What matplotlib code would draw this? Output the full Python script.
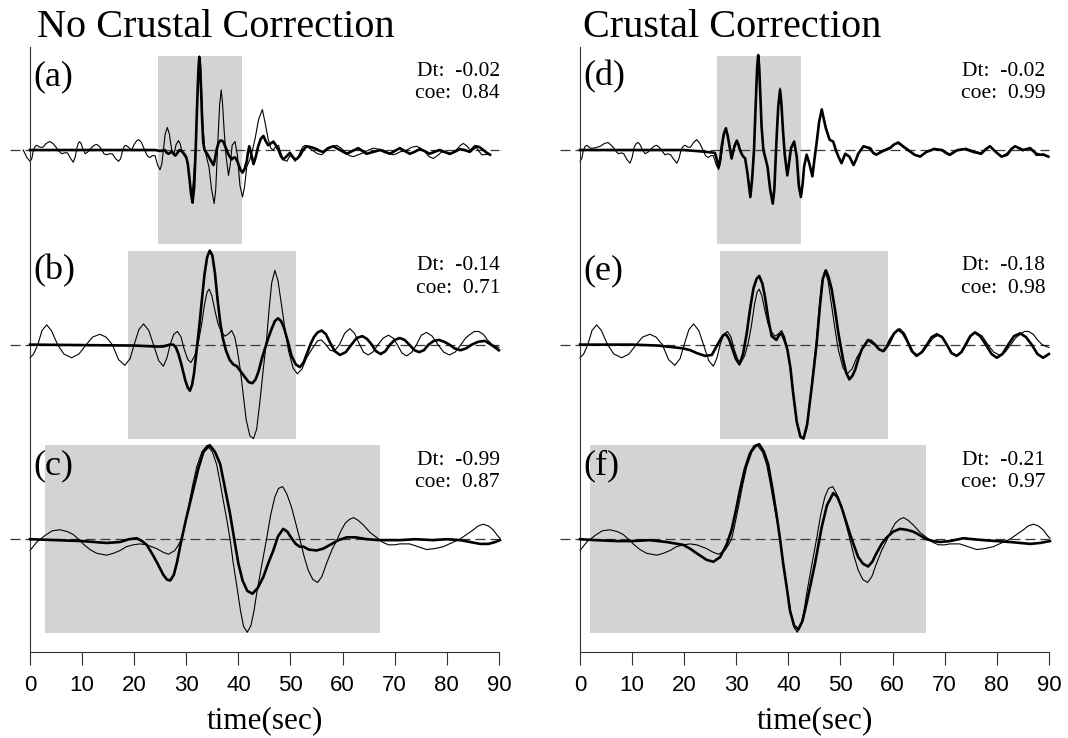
import matplotlib
matplotlib.use('Agg')
import matplotlib.pyplot as plt
from matplotlib.patches import Rectangle
from matplotlib.transforms import blended_transform_factory

plt.rcParams['font.family'] = ['Liberation Serif', 'DejaVu Serif']

# ---- traces as (time, amplitude) pairs ----
# thin = observed, thick = synthetic; amplitude 1 = half the grey window height

# (a) no crustal correction, top
obs_a = [(-1.3, 0.0), (-0.6, -0.08), (0.0, -0.12), (0.35, -0.09), (0.65, 0.0), (1.0, 0.04),
         (1.3, 0.05), (1.9, 0.03), (2.5, 0.03), (3.1, 0.07), (3.8, 0.09), (4.4, 0.07), (5.0, 0.03),
         (5.5, -0.01), (6.1, -0.04), (6.6, -0.03), (7.2, -0.03), (7.8, -0.09), (8.3, -0.13),
         (8.7, -0.07), (9.0, 0.02), (9.25, 0.07), (9.5, 0.09), (9.8, 0.07), (10.1, 0.02),
         (10.6, -0.04), (11.1, -0.02), (11.7, 0.02), (12.3, 0.05), (12.8, 0.06), (13.3, 0.04),
         (13.8, 0.0), (14.2, -0.04), (14.7, -0.05), (15.2, -0.04), (15.8, -0.04), (16.4, -0.09),
         (17.0, -0.12), (17.4, -0.09), (17.8, 0.0), (18.1, 0.04), (18.4, 0.05), (18.9, 0.03),
         (19.5, 0.0), (20.0, 0.06), (20.5, 0.1), (20.9, 0.11), (21.4, 0.08), (22.0, 0.0),
         (22.5, -0.06), (23.0, -0.08), (23.5, -0.06), (24.0, -0.06), (24.5, -0.16), (24.95, -0.21),
         (25.3, -0.15), (25.6, 0.0), (25.95, 0.17), (26.35, 0.24), (26.75, 0.17), (27.2, 0.0),
         (27.6, -0.05), (28.05, 0.06), (28.5, 0.10), (28.8, 0.07), (29.1, 0.0), (29.6, -0.06),
         (30.05, -0.09), (30.5, -0.25), (31.05, -0.5), (31.4, -0.3), (31.75, 0.0), (31.95, 0.3),
         (32.15, 0.6), (32.35, 0.88), (32.55, 1.0), (32.75, 0.88), (32.95, 0.6), (33.2, 0.25),
         (33.55, 0.0), (34.0, -0.1), (34.35, -0.18), (34.85, -0.42), (35.35, -0.57), (35.65, -0.42),
         (35.9, -0.1), (36.15, 0.2), (36.4, 0.48), (36.7, 0.64), (36.95, 0.5), (37.25, 0.22),
         (37.6, -0.05), (38.1, -0.27), (38.45, -0.15), (38.8, 0.05), (39.35, 0.09), (39.8, -0.05),
         (40.3, -0.38), (40.8, -0.5), (41.2, -0.38), (41.6, -0.18), (42.2, -0.1), (42.7, 0.0),
         (43.2, 0.12), (43.9, 0.33), (44.6, 0.43), (45.2, 0.27), (45.7, 0.12), (46.2, 0.02),
         (46.7, 0.0), (47.2, 0.04), (47.7, 0.05), (48.2, -0.04), (48.6, -0.1), (49.3, -0.12),
         (49.9, -0.06), (50.4, -0.08), (50.9, -0.12), (51.4, -0.08), (51.8, -0.03), (52.3, 0.03),
         (52.8, 0.05), (53.6, 0.02), (54.4, -0.01), (55.2, -0.04), (56.0, -0.05), (56.8, -0.01),
         (57.5, 0.02), (58.2, 0.04), (58.9, 0.05), (59.7, 0.02), (60.5, -0.02), (61.3, -0.06),
         (62.1, -0.07), (63.0, -0.05), (64.0, -0.03), (65.0, 0.0), (65.9, 0.02), (66.9, 0.01),
         (67.8, 0.0), (68.8, -0.03), (69.7, -0.05), (70.3, -0.04), (71.0, -0.02), (71.7, -0.01),
         (72.3, 0.0), (73.3, 0.03), (74.2, 0.04), (75.0, 0.02), (75.8, -0.02), (76.6, -0.07),
         (77.4, -0.09), (78.2, -0.06), (79.0, -0.02), (79.8, -0.03), (80.6, -0.05), (81.3, -0.02),
         (82.0, 0.01), (82.6, 0.05), (83.2, 0.07), (83.9, 0.04), (84.5, 0.0), (85.0, 0.03),
         (85.4, 0.05), (86.0, 0.0), (86.7, -0.05), (87.3, -0.05), (88.0, -0.04)]
syn_a = [(0.0, 0.0), (10.0, 0.0), (20.0, 0.0), (24.0, 0.0), (25.0, -0.01), (25.9, 0.0),
         (26.25, -0.03), (26.6, -0.04), (26.9, -0.03), (27.2, -0.01), (27.55, -0.04), (27.9, -0.06),
         (28.3, -0.03), (28.7, 0.0), (29.05, -0.01), (29.4, -0.03), (29.7, -0.05), (30.0, -0.08),
         (30.3, -0.15), (30.6, -0.3), (30.9, -0.46), (31.2, -0.56), (31.5, -0.4), (31.8, 0.0),
         (32.0, 0.35), (32.2, 0.68), (32.35, 0.88), (32.5, 0.99), (32.65, 0.9), (32.85, 0.62),
         (33.05, 0.3), (33.25, 0.08), (33.5, 0.0), (34.0, -0.04), (34.6, -0.1), (35.2, -0.16),
         (35.5, -0.1), (35.8, 0.0), (36.15, 0.07), (36.5, 0.10), (36.8, 0.1), (37.1, 0.09),
         (37.6, 0.02), (38.1, -0.05), (38.7, -0.1), (39.1, -0.08), (39.4, -0.08), (39.7, -0.11),
         (40.0, -0.15), (40.4, -0.21), (40.8, -0.24), (41.2, -0.2), (41.6, -0.12), (41.85, -0.02),
         (42.1, 0.04), (42.5, -0.05), (42.9, -0.15), (43.3, -0.08), (43.8, 0.04), (44.3, 0.12),
         (44.8, 0.15), (45.2, 0.1), (45.7, 0.05), (46.2, 0.07), (46.7, 0.09), (47.2, 0.05),
         (47.7, 0.0), (48.2, -0.07), (48.6, -0.1), (49.2, -0.07), (49.9, -0.03), (50.4, -0.07),
         (50.9, -0.1), (51.3, -0.09), (51.8, -0.06), (52.4, 0.0), (53.1, 0.04), (54.0, 0.03),
         (55.0, 0.01), (55.6, -0.01), (56.3, -0.02), (57.2, 0.02), (58.2, 0.04), (59.5, 0.0),
         (60.8, -0.04), (61.9, -0.01), (63.0, 0.02), (63.8, -0.01), (64.6, -0.04), (65.9, -0.02),
         (67.2, 0.0), (68.1, -0.02), (69.1, -0.04), (70.0, -0.01), (71.0, 0.02), (71.9, -0.01),
         (72.9, -0.04), (73.8, -0.02), (74.8, 0.01), (75.7, -0.01), (76.7, -0.04), (77.6, -0.02),
         (78.6, 0.0), (79.6, -0.02), (80.6, -0.04), (81.5, -0.02), (82.5, 0.01), (83.4, 0.0),
         (84.4, -0.02), (85.0, 0.01), (85.7, 0.04), (86.3, 0.03), (87.0, 0.0), (87.7, -0.03),
         (88.3, -0.05)]

# (b) and (e) share the observed trace
obs_be = [(0.0, -0.14), (0.7, -0.1), (1.5, 0.0), (2.3, 0.15), (3.2, 0.21), (4.1, 0.15), (5.3, 0.0),
          (6.5, -0.1), (8.0, -0.14), (9.4, -0.1), (10.8, 0.0), (12.0, 0.08), (13.4, 0.11),
          (14.6, 0.08), (15.8, 0.0), (17.0, -0.16), (18.2, -0.22), (19.2, -0.15), (20.0, 0.0),
          (20.9, 0.16), (21.8, 0.22), (22.8, 0.15), (23.7, 0.0), (24.7, -0.17), (25.6, -0.23),
          (26.3, -0.14), (26.9, 0.0), (27.6, 0.11), (28.3, 0.14), (29.0, 0.08), (29.6, -0.05),
          (30.3, -0.16), (30.9, -0.19), (31.6, -0.12), (32.3, 0.02), (32.9, 0.2), (33.5, 0.43),
          (34.0, 0.56), (34.4, 0.59), (34.9, 0.52), (35.5, 0.36), (36.1, 0.22), (36.7, 0.14),
          (37.4, 0.09), (38.0, 0.11), (38.7, 0.15), (39.3, 0.08), (39.8, -0.06), (40.4, -0.28),
          (40.9, -0.52), (41.5, -0.8), (42.2, -0.97), (42.9, -1.0), (43.5, -0.9), (44.1, -0.62),
          (44.8, -0.25), (45.4, 0.05), (45.9, 0.38), (46.4, 0.66), (47.0, 0.79), (47.6, 0.68),
          (48.2, 0.45), (48.9, 0.18), (49.6, -0.06), (50.5, -0.25), (51.3, -0.31), (52.2, -0.26),
          (53.1, -0.14), (54.2, -0.04), (55.2, 0.04), (55.9, 0.05), (56.8, 0.0), (57.6, -0.06),
          (58.4, -0.07), (59.4, 0.0), (60.4, 0.12), (61.4, 0.17), (62.3, 0.12), (63.1, 0.02),
          (64.0, -0.08), (64.9, -0.11), (65.8, -0.08), (66.8, 0.0), (67.8, 0.07), (68.8, 0.1),
          (69.7, 0.07), (70.5, 0.0), (71.4, -0.09), (72.3, -0.12), (73.3, -0.08), (74.2, 0.0),
          (75.1, 0.1), (76.1, 0.13), (77.2, 0.09), (78.3, 0.0), (79.4, -0.08), (80.5, -0.11),
          (81.6, -0.08), (82.7, 0.0), (83.6, 0.07), (84.5, 0.11), (85.3, 0.14), (86.1, 0.14),
          (87.0, 0.11), (87.8, 0.05), (88.7, 0.0), (89.5, -0.02), (90.0, -0.03)]
syn_b = [(0.0, 0.0), (10.0, -0.005), (20.0, -0.01), (24.0, -0.02), (25.6, -0.02), (26.8, 0.0),
         (27.5, 0.0), (28.0, -0.03), (28.5, -0.1), (29.1, -0.22), (29.8, -0.38), (30.3, -0.46),
         (30.7, -0.49), (31.1, -0.43), (31.5, -0.3), (32.0, -0.05), (32.5, 0.2), (33.0, 0.48),
         (33.5, 0.75), (34.0, 0.93), (34.5, 1.0), (35.0, 0.95), (35.5, 0.76), (36.0, 0.48),
         (36.5, 0.24), (37.0, 0.07), (37.6, -0.06), (38.3, -0.16), (39.0, -0.21), (39.7, -0.23),
         (40.5, -0.29), (41.3, -0.35), (42.0, -0.4), (42.7, -0.41), (43.3, -0.37), (43.9, -0.28),
         (44.5, -0.15), (45.1, -0.04), (45.8, 0.08), (46.4, 0.17), (47.0, 0.25), (47.6, 0.28),
         (48.2, 0.25), (48.8, 0.17), (49.5, 0.03), (50.2, -0.12), (51.0, -0.21), (51.8, -0.24),
         (52.5, -0.19), (53.2, -0.09), (53.8, 0.0), (54.5, 0.08), (55.2, 0.13), (56.0, 0.15),
         (56.8, 0.11), (57.6, 0.02), (58.5, -0.07), (59.5, -0.11), (60.6, -0.08), (61.7, 0.0),
         (62.7, 0.07), (63.8, 0.09), (64.7, 0.06), (65.6, 0.0), (66.4, -0.07), (67.3, -0.1),
         (68.2, -0.07), (69.1, 0.0), (70.0, 0.05), (71.0, 0.07), (71.9, 0.05), (72.8, 0.0),
         (73.8, -0.06), (74.7, -0.08), (75.6, -0.06), (76.5, 0.0), (77.5, 0.04), (78.5, 0.05),
         (79.5, 0.03), (80.5, 0.0), (81.5, -0.04), (82.6, -0.06), (83.7, -0.04), (84.8, 0.0),
         (86.0, 0.03), (87.3, 0.04), (88.2, 0.01), (89.0, -0.02), (90.0, -0.06)]

# (c) and (f) share the observed trace
obs_cf = [(0.0, -0.12), (1.3, -0.03), (2.9, 0.04), (4.3, 0.09), (5.8, 0.10), (7.2, 0.08),
          (8.3, 0.05), (9.3, 0.0), (10.2, -0.05), (11.5, -0.11), (12.8, -0.15), (14.7, -0.17),
          (16.0, -0.15), (17.3, -0.12), (18.5, -0.08), (19.8, -0.06), (21.1, -0.05), (22.4, -0.06),
          (24.3, -0.1), (25.6, -0.14), (26.6, -0.16), (27.8, -0.12), (28.5, -0.06), (29.1, 0.0),
          (29.7, 0.15), (30.4, 0.34), (31.2, 0.57), (32.0, 0.77), (33.0, 0.93), (34.0, 1.0),
          (35.0, 0.93), (35.8, 0.8), (36.5, 0.6), (37.1, 0.41), (37.8, 0.2), (38.4, 0.0),
          (39.0, -0.25), (39.7, -0.5), (40.4, -0.76), (41.0, -0.93), (41.7, -0.99), (42.4, -0.92),
          (43.0, -0.76), (43.5, -0.58), (44.4, -0.3), (45.4, 0.0), (46.2, 0.26), (47.0, 0.45),
          (47.7, 0.54), (48.5, 0.56), (49.3, 0.48), (50.2, 0.34), (51.0, 0.17), (51.8, 0.0),
          (52.6, -0.18), (53.4, -0.33), (54.3, -0.43), (55.2, -0.46), (56.0, -0.4), (56.9, -0.26),
          (57.9, -0.12), (58.9, -0.01), (59.7, 0.09), (60.5, 0.17), (61.3, 0.21), (62.1, 0.23),
          (63.0, 0.2), (64.0, 0.15), (65.3, 0.07), (66.5, 0.02), (67.6, -0.03), (68.8, -0.06),
          (70.0, -0.06), (71.0, -0.05), (72.9, -0.05), (74.5, -0.08), (76.1, -0.11), (77.7, -0.1),
          (79.3, -0.08), (80.9, -0.04), (82.5, 0.0), (83.8, 0.05), (85.1, 0.1), (86.0, 0.14),
          (87.0, 0.16), (88.0, 0.14), (88.9, 0.1), (89.7, 0.04), (90.2, 0.01)]
syn_c = [(0.0, 0.0), (5.0, -0.01), (10.0, -0.02), (14.7, -0.04), (17.3, -0.03), (19.0, 0.0),
         (20.5, 0.01), (21.5, -0.02), (22.4, -0.06), (23.4, -0.15), (24.3, -0.24), (25.6, -0.38),
         (26.3, -0.43), (26.9, -0.44), (27.6, -0.38), (28.2, -0.25), (29.1, 0.0), (29.9, 0.2),
         (30.6, 0.36), (31.3, 0.52), (32.3, 0.75), (33.3, 0.93), (34.5, 1.0), (35.5, 0.93),
         (36.5, 0.8), (37.4, 0.55), (38.4, 0.27), (39.2, 0.0), (40.0, -0.26), (40.8, -0.44),
         (41.7, -0.55), (42.7, -0.58), (43.7, -0.52), (44.8, -0.4), (45.7, -0.26), (46.7, -0.12),
         (47.6, 0.03), (48.6, 0.11), (49.4, 0.08), (50.2, 0.01), (51.0, -0.05), (51.8, -0.08),
         (52.5, -0.08), (53.5, -0.11), (55.0, -0.12), (56.3, -0.1), (57.6, -0.06), (59.2, -0.01),
         (60.8, 0.02), (62.5, 0.02), (64.6, 0.0), (67.0, -0.01), (71.0, -0.01), (74.0, 0.0),
         (77.4, -0.01), (80.0, 0.0), (82.5, -0.01), (84.5, -0.03), (86.4, -0.05), (88.0, -0.05),
         (89.3, -0.03), (90.2, -0.01)]

# (d) crustal correction, top
obs_d = [(0.0, -0.12), (0.35, -0.09), (0.65, 0.0), (1.0, 0.04), (1.3, 0.05), (2.0, 0.02),
         (2.6, 0.02), (3.3, 0.03), (3.9, 0.04), (4.7, 0.07), (5.4, 0.08), (6.0, 0.05), (6.5, 0.02),
         (7.0, -0.02), (7.4, -0.04), (7.9, -0.03), (8.4, -0.04), (9.0, -0.1), (9.6, -0.14),
         (10.0, -0.08), (10.4, 0.03), (10.8, 0.07), (11.2, 0.08), (11.6, 0.05), (12.0, 0.0),
         (12.5, -0.04), (13.1, -0.02), (13.6, 0.01), (14.2, 0.04), (14.7, 0.05), (15.2, 0.03),
         (15.6, 0.0), (16.3, -0.05), (16.9, -0.04), (17.4, -0.05), (18.0, -0.1), (18.6, -0.14),
         (19.0, -0.09), (19.4, 0.0), (19.8, 0.04), (20.2, 0.05), (20.7, 0.03), (21.2, 0.03),
         (21.8, 0.08), (22.4, 0.11), (23.0, 0.07), (23.6, 0.0), (24.1, -0.06), (24.6, -0.08),
         (25.1, -0.06), (25.6, -0.06), (26.1, -0.15), (26.6, -0.21), (26.95, -0.14), (27.3, 0.0),
         (27.65, 0.17), (28.0, 0.24), (28.35, 0.16), (28.7, 0.02), (29.2, -0.06), (29.65, 0.06),
         (30.1, 0.1), (30.4, 0.06), (30.7, 0.0), (31.2, -0.06), (31.7, -0.09), (32.15, -0.25),
         (32.7, -0.5), (33.05, -0.3), (33.4, 0.0), (33.6, 0.3), (33.8, 0.6), (34.0, 0.88),
         (34.2, 1.0), (34.4, 0.88), (34.6, 0.6), (34.85, 0.25), (35.2, 0.0), (35.65, -0.1),
         (36.0, -0.18), (36.5, -0.42), (37.0, -0.57), (37.3, -0.42), (37.55, -0.1), (37.8, 0.2),
         (38.05, 0.48), (38.4, 0.66), (38.65, 0.5), (38.95, 0.22), (39.3, -0.05), (39.8, -0.27),
         (40.1, -0.15), (40.5, 0.02), (41.1, 0.09), (41.6, -0.07), (42.0, -0.38), (42.4, -0.5),
         (42.75, -0.35), (43.0, -0.18), (43.5, -0.05), (44.0, -0.14), (44.6, -0.28), (45.0, -0.1),
         (45.4, 0.07), (45.9, 0.3), (46.4, 0.44), (46.8, 0.33), (47.2, 0.23), (47.9, 0.11),
         (48.6, 0.09), (49.1, 0.0), (49.6, -0.07), (50.2, -0.14), (50.9, -0.04), (51.7, -0.07),
         (52.5, -0.16), (53.0, -0.1), (53.4, -0.04), (54.4, 0.04), (55.0, 0.03), (55.7, 0.0),
         (56.3, -0.04), (56.9, -0.05), (57.5, -0.02), (58.2, 0.0), (59.5, 0.03), (60.3, 0.06),
         (61.1, 0.07), (62.0, 0.03), (63.0, -0.01), (64.2, -0.05), (65.3, -0.07), (66.0, -0.04),
         (66.5, -0.02), (68.0, 0.02), (69.5, -0.01), (70.3, -0.04), (71.0, -0.06), (71.8, -0.03),
         (72.5, 0.0), (74.0, 0.02), (75.5, -0.01), (77.0, -0.03), (77.9, 0.01), (78.7, 0.04),
         (79.8, -0.02), (80.9, -0.07), (81.5, -0.05), (82.0, -0.03), (82.8, 0.02), (83.5, 0.04),
         (84.3, 0.01), (85.0, -0.01), (85.7, 0.01), (86.4, 0.02), (87.0, -0.02), (87.6, -0.06),
         (88.3, -0.05), (89.0, -0.04), (89.9, -0.07)]
syn_d = [(0.0, 0.0), (10.0, 0.0), (20.0, 0.0), (24.3, -0.02), (25.9, -0.03), (26.25, -0.1),
         (26.6, -0.18), (26.9, -0.1), (27.2, 0.04), (27.6, 0.17), (28.0, 0.23), (28.35, 0.15),
         (28.7, 0.04), (29.1, -0.09), (29.6, 0.03), (30.1, 0.1), (30.4, 0.06), (30.7, 0.0),
         (31.2, -0.06), (31.7, -0.09), (32.15, -0.25), (32.7, -0.5), (33.05, -0.3), (33.4, 0.0),
         (33.6, 0.3), (33.8, 0.6), (34.0, 0.88), (34.2, 1.01), (34.4, 0.88), (34.6, 0.6),
         (34.85, 0.25), (35.2, 0.0), (35.65, -0.1), (36.0, -0.18), (36.5, -0.42), (37.0, -0.57),
         (37.3, -0.42), (37.55, -0.1), (37.8, 0.2), (38.05, 0.46), (38.4, 0.64), (38.65, 0.5),
         (38.95, 0.22), (39.3, -0.05), (39.8, -0.27), (40.1, -0.15), (40.5, 0.02), (41.1, 0.09),
         (41.6, -0.07), (42.0, -0.38), (42.4, -0.5), (42.75, -0.35), (43.0, -0.18), (43.5, -0.05),
         (44.0, -0.14), (44.6, -0.28), (45.0, -0.1), (45.4, 0.07), (45.9, 0.3), (46.4, 0.43),
         (46.8, 0.33), (47.2, 0.23), (47.9, 0.11), (48.6, 0.09), (49.1, 0.0), (49.6, -0.07),
         (50.2, -0.14), (50.9, -0.04), (51.7, -0.07), (52.5, -0.16), (53.0, -0.1), (53.4, -0.04),
         (54.4, 0.04), (55.0, 0.03), (55.7, 0.02), (56.3, -0.03), (56.9, -0.05), (57.5, -0.03),
         (58.2, -0.01), (59.5, 0.02), (60.3, 0.06), (61.1, 0.08), (62.0, 0.04), (63.0, 0.0),
         (64.2, -0.05), (65.3, -0.07), (66.0, -0.04), (66.5, -0.02), (68.0, 0.01), (69.5, 0.0),
         (70.3, -0.03), (71.0, -0.05), (71.8, -0.02), (72.5, 0.0), (74.0, 0.01), (75.5, -0.02),
         (77.0, -0.04), (77.9, 0.01), (78.7, 0.04), (79.8, -0.02), (80.9, -0.07), (81.5, -0.06),
         (82.0, -0.05), (82.8, 0.01), (83.5, 0.04), (84.3, 0.02), (85.0, 0.0), (85.7, 0.01),
         (86.4, 0.02), (87.0, -0.01), (87.6, -0.04), (88.3, -0.05), (89.0, -0.05), (89.9, -0.07)]

# (e) crustal correction, middle
syn_e = [(0.0, 0.0), (10.0, 0.0), (15.0, -0.01), (19.8, -0.04), (21.2, -0.06), (22.4, -0.09),
         (24.0, -0.12), (25.3, -0.11), (26.1, -0.03), (26.9, 0.05), (27.5, 0.1), (28.0, 0.11),
         (28.6, 0.06), (29.1, -0.02), (29.9, -0.15), (30.6, -0.21), (31.3, -0.1), (32.0, 0.12),
         (32.7, 0.4), (33.3, 0.6), (33.9, 0.7), (34.4, 0.73), (35.0, 0.65), (35.5, 0.51),
         (36.2, 0.25), (36.8, 0.09), (37.7, 0.05), (38.2, 0.1), (38.7, 0.12), (39.3, 0.04),
         (39.8, -0.05), (40.4, -0.25), (40.9, -0.51), (41.6, -0.82), (42.3, -0.98), (42.9, -1.0),
         (43.6, -0.85), (44.1, -0.62), (44.5, -0.44), (45.4, 0.0), (46.1, 0.44), (46.6, 0.7),
         (47.2, 0.79), (47.7, 0.72), (48.3, 0.59), (49.0, 0.35), (49.6, 0.12), (50.5, -0.16),
         (51.1, -0.3), (51.7, -0.37), (52.3, -0.33), (52.8, -0.27), (53.5, -0.14), (54.1, -0.05),
         (55.3, 0.05), (56.6, 0.0), (57.4, -0.05), (58.2, -0.07), (58.9, -0.02), (59.5, 0.05),
         (60.3, 0.12), (61.1, 0.16), (62.0, 0.12), (62.8, 0.04), (63.7, -0.07), (64.6, -0.12),
         (65.6, -0.08), (66.6, 0.0), (67.5, 0.08), (68.5, 0.11), (69.5, 0.08), (70.4, 0.0),
         (71.3, -0.09), (72.3, -0.12), (73.2, -0.08), (74.0, 0.0), (74.9, 0.09), (75.8, 0.13),
         (76.8, 0.09), (77.9, 0.0), (79.0, -0.1), (80.0, -0.14), (81.1, -0.1), (82.2, 0.0),
         (83.3, 0.09), (84.5, 0.12), (85.6, 0.08), (86.7, 0.0), (87.8, -0.1), (88.9, -0.14),
         (90.0, -0.1)]

# (f) crustal correction, bottom
syn_f = [(0.0, 0.0), (3.0, -0.01), (7.0, -0.02), (10.0, -0.02), (13.4, -0.01), (16.6, -0.03),
         (19.8, -0.06), (21.1, -0.1), (22.4, -0.15), (24.3, -0.22), (25.6, -0.24), (26.9, -0.19),
         (28.2, -0.05), (29.1, 0.1), (29.9, 0.3), (30.7, 0.52), (31.6, 0.74), (32.6, 0.91),
         (33.5, 0.99), (34.4, 1.01), (35.3, 0.93), (36.1, 0.8), (36.9, 0.55), (37.7, 0.27),
         (38.4, 0.0), (39.0, -0.26), (39.7, -0.52), (40.3, -0.76), (41.1, -0.92), (41.9, -0.96),
         (42.7, -0.87), (43.5, -0.68), (44.3, -0.47), (45.1, -0.26), (45.8, -0.05), (46.4, 0.13),
         (47.4, 0.36), (48.6, 0.49), (49.4, 0.45), (50.2, 0.34), (51.0, 0.2), (51.8, 0.06),
         (52.6, -0.07), (53.4, -0.19), (54.3, -0.26), (55.3, -0.29), (56.1, -0.24), (56.9, -0.15),
         (57.9, -0.05), (58.9, 0.02), (60.1, 0.08), (61.4, 0.11), (62.7, 0.1), (64.0, 0.08),
         (65.3, 0.04), (66.5, 0.0), (67.8, -0.02), (69.1, -0.03), (71.0, -0.02), (73.6, 0.01),
         (75.5, 0.0), (77.4, -0.01), (80.0, -0.02), (82.5, -0.03), (84.5, -0.04), (86.4, -0.05),
         (88.3, -0.04), (90.2, -0.02)]

# ---- annotations ----
titles = ['No Crustal Correction', 'Crustal Correction']
panel_labels = [['(a)', '(b)', '(c)'], ['(d)', '(e)', '(f)']]
dt_values = [['-0.02', '-0.14', '-0.99'], ['-0.02', '-0.18', '-0.21']]
coe_values = [['0.84', '0.71', '0.87'], ['0.99', '0.98', '0.97']]
win_start = [[24.5, 18.9, 2.9], [26.2, 26.9, 2.0]]
win_end = [[40.6, 51.0, 67.2], [42.4, 59.1, 66.4]]
xticks = [0, 10, 20, 30, 40, 50, 60, 70, 80, 90]

traces = [[(obs_a, syn_a), (obs_be, syn_b), (obs_cf, syn_c)],
          [(obs_d, syn_d), (obs_be, syn_e), (obs_cf, syn_f)]]

offsets = [0.0, -2.07, -4.14]   # baseline of each trace
W, H = 1068, 738

fig = plt.figure(figsize=(W / 100, H / 100), dpi=100)
ax_left = [9.16, 559.16]   # pixel position of each axes' left edge
dt_x = [90.2, 89.3]
title_x = [37, 583]

for col in range(2):
    ax = fig.add_axes([ax_left[col] / W, 86 / H, 491.3 / W, 605 / H])
    ax.set_xlim(-4, 90.3)
    ax.set_ylim(-5.34, 1.096)

    for row in range(3):
        off = offsets[row]
        t0, t1 = win_start[col][row], win_end[col][row]
        ax.add_patch(Rectangle((t0, off - 1.0), t1 - t0, 2.0, facecolor='#d3d3d3',
                               edgecolor='none', zorder=0))
        ax.hlines(off, -3.8, 90, colors='#3a3a3a', linestyles=(0, (8, 4)),
                  linewidth=0.9, zorder=1)
        obs, syn = traces[col][row]
        ax.plot([p[0] for p in obs], [p[1] + off for p in obs], color='black', lw=0.8,
                zorder=2, clip_on=False, solid_joinstyle='round')
        ax.plot([p[0] for p in syn], [p[1] + off for p in syn], color='black', lw=1.9,
                zorder=3, clip_on=False, solid_joinstyle='round')

        ax.text(0.6, off + 0.69, panel_labels[col][row], fontsize=26, va='baseline')
        ax.text(dt_x[col], off + 0.79, 'Dt:  ' + dt_values[col][row], fontsize=15.5,
                ha='right', va='baseline')
        ax.text(dt_x[col], off + 0.55, 'coe:  ' + coe_values[col][row], fontsize=15.5,
                ha='right', va='baseline')

    for s in ['top', 'right']:
        ax.spines[s].set_visible(False)
    ax.spines['left'].set_position(('data', 0))
    ax.spines['left'].set_color('#333333')
    ax.spines['bottom'].set_color('#333333')
    ax.spines['bottom'].set_bounds(0, 90)
    ax.set_xticks(xticks)
    ax.set_xticklabels([str(v) for v in xticks], family='Liberation Sans', fontsize=16)
    ax.tick_params(axis='x', direction='out', length=9.4, width=0.8, color='#333333', pad=7)
    ax.tick_params(axis='y', left=False, labelleft=False)
    ax.patch.set_visible(False)

    tr = blended_transform_factory(ax.transData, fig.transFigure)
    ax.text(45, 1 - 728 / H, 'time(sec)', transform=tr, fontsize=22.5, ha='center',
            va='baseline')

    fig.text(title_x[col] / W, 1 - 37 / H, titles[col], fontsize=29, va='baseline')

fig.savefig('out.png', dpi=100)
